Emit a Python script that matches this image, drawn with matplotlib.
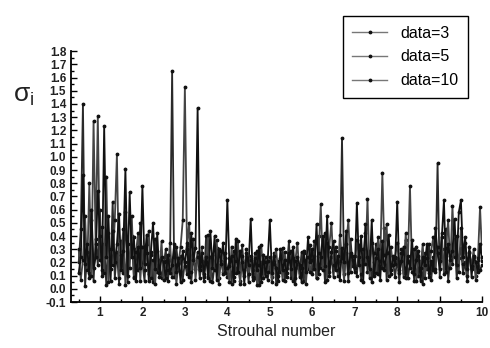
import numpy as np
import matplotlib
matplotlib.use("Agg")
import matplotlib.pyplot as plt
from matplotlib.ticker import MultipleLocator, FormatStrFormatter

plt.rcParams['font.family'] = ['Liberation Sans', 'DejaVu Sans']
plt.rcParams['axes.unicode_minus'] = False

# sigma_i values, Strouhal number 0.50 .. 10.00 in steps of 0.05
data3 = [
    0.20, 0.45, 1.40, 0.02, 0.28, 0.12, 0.52, 0.06, 0.38, 0.18,
    0.60, 0.10, 0.34, 0.03, 0.42, 0.15, 0.66, 0.08, 0.28, 0.04,
    0.36, 0.12, 0.58, 0.05, 0.24, 0.40, 0.08, 0.30, 0.14, 0.50,
    0.20, 0.06, 0.34, 0.11, 0.26, 0.05, 0.38, 0.13, 0.22, 0.08,
    0.17, 0.30, 0.06, 0.22, 1.65, 0.09, 0.32, 0.14, 0.25, 0.07,
    0.20, 0.11, 0.33, 0.05, 0.23, 0.15, 0.28, 0.08, 0.21, 0.06,
    0.40, 0.10, 0.24, 0.05, 0.18, 0.31, 0.08, 0.21, 0.13, 0.27,
    0.09, 0.23, 0.04, 0.29, 0.12, 0.19, 0.06, 0.33, 0.10, 0.22,
    0.05, 0.25, 0.14, 0.08, 0.29, 0.03, 0.20, 0.12, 0.24, 0.07,
    0.18, 0.09, 0.27, 0.04, 0.21, 0.13, 0.31, 0.06, 0.16, 0.36,
    0.08, 0.23, 0.04, 0.19, 0.12, 0.28, 0.06, 0.22, 0.15, 0.33,
    0.11, 0.25, 0.08, 0.40, 0.16, 0.30, 0.05, 0.35, 0.13, 0.24,
    0.09, 0.32, 0.15, 0.21, 1.14, 0.11, 0.27, 0.06, 0.38, 0.17,
    0.25, 0.10, 0.33, 0.07, 0.22, 0.42, 0.13, 0.29, 0.05, 0.20,
    0.34, 0.11, 0.24, 0.16, 0.46, 0.07, 0.28, 0.14, 0.21, 0.09,
    0.23, 0.05, 0.30, 0.12, 0.37, 0.08, 0.19, 0.26, 0.06, 0.32,
    0.10, 0.21, 0.04, 0.27, 0.15, 0.34, 0.07, 0.24, 0.13, 0.95,
    0.09, 0.30, 0.16, 0.45, 0.06, 0.25, 0.19, 0.38, 0.08, 0.23,
    0.31, 0.12, 0.20, 0.06, 0.28, 0.15, 0.24, 0.10, 0.22, 0.14,
    0.18,
]
data5 = [
    0.30, 0.07, 0.22, 0.55, 0.14, 0.80, 0.10, 1.27, 0.34, 1.31,
    0.22, 0.47, 0.12, 0.85, 0.05, 0.30, 0.18, 0.52, 1.02, 0.08,
    0.26, 0.45, 0.03, 0.34, 0.16, 0.55, 0.09, 0.28, 0.42, 0.06,
    0.32, 0.14, 0.27, 0.44, 0.08, 0.22, 0.04, 0.29, 0.12, 0.36,
    0.07, 0.21, 0.14, 0.35, 0.09, 0.24, 0.04, 0.19, 0.32, 0.52,
    1.53, 0.30, 0.50, 0.13, 0.38, 0.07, 0.24, 0.17, 0.32, 0.09,
    0.20, 0.41, 0.06, 0.26, 0.14, 0.37, 0.04, 0.29, 0.11, 0.23,
    0.16, 0.05, 0.32, 0.09, 0.21, 0.36, 0.04, 0.25, 0.14, 0.30,
    0.11, 0.22, 0.07, 0.27, 0.03, 0.18, 0.33, 0.08, 0.20, 0.13,
    0.24, 0.05, 0.19, 0.30, 0.10, 0.23, 0.07, 0.28, 0.12, 0.21,
    0.29, 0.06, 0.21, 0.35, 0.09, 0.16, 0.27, 0.04, 0.24, 0.13,
    0.22, 0.36, 0.08, 0.27, 0.64, 0.14, 0.42, 0.07, 0.32, 0.50,
    0.18, 0.29, 0.10, 0.41, 0.23, 0.06, 0.34, 0.52, 0.13, 0.25,
    0.16, 0.37, 0.24, 0.11, 0.30, 0.19, 0.68, 0.08, 0.35, 0.27,
    0.12, 0.39, 0.21, 0.88, 0.26, 0.49, 0.10, 0.32, 0.18, 0.24,
    0.35, 0.14, 0.27, 0.09, 0.42, 0.20, 0.78, 0.13, 0.30, 0.06,
    0.25, 0.16, 0.34, 0.08, 0.23, 0.12, 0.29, 0.39, 0.15, 0.32,
    0.21, 0.42, 0.11, 0.31, 0.52, 0.16, 0.63, 0.24, 0.40, 0.13,
    0.46, 0.19, 0.35, 0.10, 0.27, 0.17, 0.30, 0.07, 0.23, 0.62,
    0.24,
]
data10 = [
    0.12, 0.24, 0.86, 0.19, 0.34, 0.08, 0.60, 0.16, 0.24, 0.74,
    0.40, 0.14, 1.23, 0.24, 0.55, 0.06, 0.44, 0.20, 0.34, 0.57,
    0.14, 0.29, 0.91, 0.10, 0.73, 0.24, 0.39, 0.06, 0.32, 0.16,
    0.78, 0.19, 0.41, 0.06, 0.28, 0.50, 0.15, 0.42, 0.09, 0.24,
    0.20, 0.08, 0.26, 0.12, 0.18, 0.34, 0.13, 0.23, 0.05, 0.29,
    0.17, 0.35, 0.09, 0.42, 0.22, 0.31, 1.37, 0.14, 0.27, 0.11,
    0.24, 0.08, 0.44, 0.16, 0.40, 0.07, 0.30, 0.19, 0.35, 0.12,
    0.67, 0.17, 0.25, 0.06, 0.38, 0.13, 0.29, 0.20, 0.04, 0.27,
    0.18, 0.53, 0.09, 0.23, 0.14, 0.32, 0.05, 0.26, 0.10, 0.21,
    0.52, 0.12, 0.25, 0.16, 0.06, 0.30, 0.14, 0.22, 0.09, 0.27,
    0.15, 0.32, 0.08, 0.24, 0.18, 0.05, 0.29, 0.13, 0.39, 0.20,
    0.30, 0.15, 0.49, 0.11, 0.24, 0.40, 0.17, 0.55, 0.10, 0.28,
    0.36, 0.14, 0.25, 0.07, 0.31, 0.20, 0.44, 0.12, 0.27, 0.22,
    0.13, 0.65, 0.18, 0.40, 0.05, 0.49, 0.24, 0.15, 0.52, 0.10,
    0.23, 0.30, 0.07, 0.36, 0.14, 0.27, 0.41, 0.11, 0.25, 0.19,
    0.66, 0.12, 0.21, 0.32, 0.08, 0.25, 0.16, 0.37, 0.11, 0.22,
    0.29, 0.06, 0.24, 0.18, 0.34, 0.09, 0.21, 0.14, 0.46, 0.27,
    0.15, 0.39, 0.67, 0.13, 0.34, 0.22, 0.29, 0.53, 0.18, 0.58,
    0.67, 0.24, 0.39, 0.15, 0.32, 0.09, 0.25, 0.20, 0.13, 0.34,
    0.21,
]
labels = ['data=3', 'data=5', 'data=10']
colors = ['#2a2a2a', '#444444', '#111111']

strouhal = np.linspace(0.5, 10.0, len(data3))

fig = plt.figure(figsize=(4.9, 3.48), dpi=100)
ax = fig.add_axes([0.145, 0.132, 0.839, 0.721])

for vals, lab, c in zip([data3, data5, data10], labels, colors):
    ax.plot(strouhal, vals, '-', color=c, lw=1.3, marker='.', ms=3.5,
            mfc='#111111', mec='#111111', label=lab)

ax.set_xlim(0.32, 10.0)
ax.set_ylim(-0.1, 1.8)
ax.xaxis.set_major_locator(MultipleLocator(1))
ax.xaxis.set_minor_locator(MultipleLocator(0.5))
ax.yaxis.set_major_locator(MultipleLocator(0.1))
ax.yaxis.set_minor_locator(MultipleLocator(0.05))
ax.yaxis.set_major_formatter(FormatStrFormatter('%.1f'))
ax.tick_params(which='both', direction='in', labelsize=8.5, width=1.0)
ax.tick_params(which='major', length=4)
ax.tick_params(which='minor', length=2)
for t in ax.get_xticklabels() + ax.get_yticklabels():
    t.set_fontweight('bold')
    t.set_color('#222222')
ax.spines['top'].set_visible(False)
ax.spines['right'].set_visible(False)
ax.spines['left'].set_linewidth(1.3)
ax.spines['bottom'].set_linewidth(1.3)

ax.set_xlabel('Strouhal number', fontsize=11.5, color='#222222')
fig.text(0.048, 0.725, r'$\mathregular{\sigma_i}$', fontsize=19, ha='center', va='center',
         color='#222222')

leg = fig.legend(loc='upper right', bbox_to_anchor=(0.971, 0.977), fontsize=11.5,
                 fancybox=False, edgecolor='black', framealpha=1, handlelength=2.2,
                 labelspacing=0.55, borderpad=0.6)
leg.get_frame().set_linewidth(1.0)
for h in leg.get_lines():
    h.set_color('#777777')
    h.set_linewidth(1.0)

fig.savefig('out.png', dpi=100)
